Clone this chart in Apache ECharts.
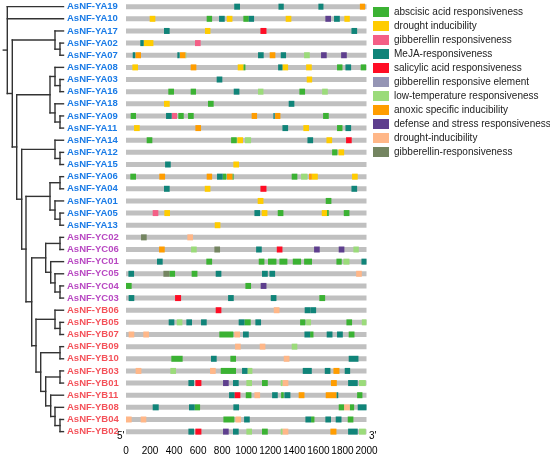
<!DOCTYPE html>
<html>
<head>
<meta charset="utf-8">
<script src="https://cdn.jsdelivr.net/npm/echarts@6/dist/echarts.min.js"></script>
<style>
  html, body { margin: 0; padding: 0; background: #fff; }
  #main { width: 550px; height: 461px; }
</style>
</head>
<body>
<div id="main"></div>
<script>
// genes, top to bottom
var genes = ['AsNF-YA19', 'AsNF-YA10', 'AsNF-YA17', 'AsNF-YA02', 'AsNF-YA07', 'AsNF-YA08',
  'AsNF-YA03', 'AsNF-YA16', 'AsNF-YA18', 'AsNF-YA09', 'AsNF-YA11', 'AsNF-YA14', 'AsNF-YA12',
  'AsNF-YA15', 'AsNF-YA06', 'AsNF-YA04', 'AsNF-YA01', 'AsNF-YA05', 'AsNF-YA13',
  'AsNF-YC02', 'AsNF-YC06', 'AsNF-YC01', 'AsNF-YC05', 'AsNF-YC04', 'AsNF-YC03',
  'AsNF-YB06', 'AsNF-YB05', 'AsNF-YB07', 'AsNF-YB09', 'AsNF-YB10', 'AsNF-YB03', 'AsNF-YB01',
  'AsNF-YB11', 'AsNF-YB08', 'AsNF-YB04', 'AsNF-YB02'];

var elementTypes = ['abscisic acid responsiveness', 'drought inducibility', 'gibberellin responsiveness',
  'MeJA-responsiveness', 'salicylic acid responsiveness', 'gibberellin responsive element',
  'low-temperature responsiveness', 'anoxic specific inducibility', 'defense and stress responsiveness',
  'drought-inducibility', 'gibberellin-responsiveness'];
var elementColors = ['#3bb233', '#ffcc00', '#f45f86', '#108479', '#ff0d25', '#9595b5',
  '#9bdb7a', '#ff9d00', '#5e3f8e', '#ffb788', '#748561'];

var ABA = 0, DRO = 1, GA = 2, MJ = 3, SA = 4, GRE = 5, LTR = 6, ANX = 7, DEF = 8, DRI = 9, GAR = 10;

// cis-elements per gene: [start, end, type]  (same order as genes)
var sites = [
  [[900, 948, MJ], [1268, 1312, MJ], [1600, 1642, MJ], [1945, 1988, ANX]],
  [[197, 244, DRO], [671, 716, ABA], [774, 821, MJ], [838, 885, DRO], [976, 1021, ABA], [1021, 1065, MJ], [1328, 1375, DRO], [1658, 1705, DEF], [1730, 1778, MJ], [1816, 1861, DRO]],
  [[316, 363, MJ], [657, 702, DRO], [1118, 1168, SA], [1875, 1922, MJ]],
  [[119, 147, MJ], [147, 228, DRO], [574, 621, GA]],
  [[56, 78, MJ], [80, 125, ANX], [427, 446, MJ], [449, 494, ANX], [494, 502, LTR], [1098, 1145, MJ], [1195, 1242, ANX], [1287, 1331, MJ], [1481, 1528, LTR], [1622, 1669, DEF], [1789, 1836, DEF]],
  [[53, 100, DRO], [538, 585, ANX], [929, 976, DRO], [976, 993, ABA], [1265, 1301, MJ], [1301, 1348, DRO], [1498, 1545, DRO], [1755, 1800, ABA], [1825, 1872, MJ], [1952, 1997, ABA]],
  [[754, 801, MJ], [1503, 1548, DRO]],
  [[352, 399, ABA], [538, 582, ABA], [896, 943, MJ], [1098, 1143, LTR], [1442, 1489, ABA], [1631, 1678, LTR]],
  [[316, 363, DRO], [682, 729, ABA], [1353, 1400, MJ]],
  [[39, 83, ABA], [333, 380, MJ], [380, 424, GA], [435, 480, ABA], [516, 563, ABA], [1045, 1090, ANX], [1226, 1237, MJ], [1240, 1284, ANX], [1639, 1686, ABA]],
  [[67, 114, DRO], [577, 624, ANX], [1301, 1348, MJ], [1475, 1522, DRO], [1755, 1800, ABA], [1825, 1872, MJ]],
  [[172, 219, ABA], [874, 921, ABA], [926, 973, DRO], [990, 1040, LTR], [1509, 1556, MJ], [1667, 1714, DRO], [1830, 1877, SA]],
  [[1714, 1758, ABA], [1767, 1814, DRO]],
  [[325, 372, MJ], [893, 940, DRO]],
  [[36, 83, ABA], [277, 325, ANX], [671, 716, ANX], [757, 804, MJ], [804, 835, ABA], [840, 885, ANX], [885, 895, ABA], [1378, 1425, ABA], [1456, 1509, LTR], [1522, 1545, ANX], [1545, 1595, DRO], [1880, 1927, DRO]],
  [[316, 363, MJ], [655, 702, DRO], [1118, 1168, SA], [1875, 1922, MJ]],
  [[1095, 1143, DRO], [1661, 1708, ABA]],
  [[222, 269, GA], [319, 366, DRO], [1068, 1115, MJ], [1129, 1176, DRO], [1262, 1309, ABA], [1628, 1672, DRO], [1672, 1686, ABA], [1811, 1858, ABA]],
  [[738, 785, DRO]],
  [[125, 172, GAR], [510, 557, DRI]],
  [[275, 322, ANX], [541, 588, LTR], [735, 782, GAR], [1082, 1129, MJ], [1254, 1301, SA], [1564, 1611, DEF], [1769, 1816, DEF], [1891, 1936, LTR]],
  [[258, 305, MJ], [668, 716, ABA], [1104, 1151, ABA], [1181, 1251, ABA], [1276, 1342, ABA], [1387, 1456, ABA], [1481, 1547, ABA], [1750, 1794, ABA], [1808, 1858, LTR], [1958, 2000, MJ]],
  [[20, 67, MJ], [311, 361, GAR], [361, 408, ABA], [546, 594, ABA], [746, 793, MJ], [1131, 1179, MJ], [1193, 1240, MJ], [1914, 1961, DRI]],
  [[0, 47, ABA], [993, 1040, ABA], [1120, 1168, DEF]],
  [[22, 69, MJ], [408, 458, SA], [849, 896, MJ], [1204, 1251, MJ], [1608, 1656, ABA]],
  [[746, 793, SA], [1229, 1276, DRI], [1486, 1534, MJ], [1534, 1581, MJ]],
  [[355, 402, MJ], [422, 469, LTR], [502, 549, MJ], [624, 671, MJ], [937, 985, MJ], [985, 1037, ABA], [1076, 1123, MJ], [1448, 1492, ABA], [1498, 1539, LTR], [1833, 1880, ABA], [1961, 2000, LTR]],
  [[22, 69, DRI], [144, 191, DRI], [776, 893, ABA], [901, 948, DRI], [973, 1021, MJ], [1484, 1531, MJ], [1531, 1559, ABA], [1669, 1717, MJ], [1755, 1803, MJ], [1852, 1900, ABA]],
  [[907, 954, DRI], [1112, 1159, DRI], [1378, 1425, LTR]],
  [[377, 471, ABA], [707, 754, MJ], [868, 915, ABA], [1312, 1359, DRI], [1852, 1933, MJ]],
  [[80, 128, DRI], [369, 416, LTR], [699, 746, DRI], [788, 915, ABA], [965, 1012, MJ], [1012, 1051, LTR], [1470, 1545, MJ], [1653, 1700, MJ], [1725, 1775, ANX], [1819, 1864, MJ]],
  [[519, 566, MJ], [577, 627, SA], [807, 854, DEF], [890, 937, MJ], [1001, 1048, LTR], [1131, 1179, ABA], [1287, 1303, LTR], [1303, 1350, DRI], [1705, 1753, ANX], [1847, 1927, MJ], [1938, 1994, LTR]],
  [[857, 904, MJ], [904, 951, SA], [996, 1043, ABA], [1068, 1115, DRI], [1215, 1262, MJ], [1290, 1312, ABA], [1317, 1367, MJ], [1436, 1484, ANX], [1661, 1750, ANX], [1750, 1765, MJ], [1922, 1966, ABA]],
  [[222, 272, MJ], [524, 571, MJ], [571, 616, ABA], [893, 940, MJ], [1769, 1814, ABA], [1814, 1861, DRI], [1861, 1897, ABA], [1927, 2000, MJ]],
  [[0, 47, DRI], [122, 169, DRI], [810, 901, ABA], [910, 957, DRI], [982, 1029, MJ], [1492, 1539, MJ], [1539, 1567, ABA], [1658, 1705, MJ], [1744, 1792, MJ], [1844, 1891, ABA]],
  [[519, 566, MJ], [577, 627, SA], [807, 854, DEF], [890, 937, MJ], [1001, 1048, LTR], [1131, 1179, ABA], [1287, 1303, LTR], [1303, 1350, DRI], [1700, 1750, ANX], [1847, 1927, MJ], [1938, 1994, LTR]]
];

var xTicks = [0, 200, 400, 600, 800, 1000, 1200, 1400, 1600, 1800, 2000];

// phylogeny: [node depth, children...], leaves are gene names
var tree = [7.3, 'AsNF-YA19', 'AsNF-YA10',
  [12.3,
    [55, 'AsNF-YA17', [60, 'AsNF-YA02', 'AsNF-YA07']],
    [16.7,
      [50, [55, 'AsNF-YA08', [60, 'AsNF-YA03', 'AsNF-YA16']], [55, 'AsNF-YA18', [60, 'AsNF-YA09', 'AsNF-YA11']]],
      [21.7,
        [55, 'AsNF-YA14', [60, 'AsNF-YA12', 'AsNF-YA15']],
        [26,
          [50, [60, 'AsNF-YA06', 'AsNF-YA04'], [55, 'AsNF-YA01', [60, 'AsNF-YA05', 'AsNF-YA13']]],
          [31.7,
            [45.7, [60, 'AsNF-YC02', 'AsNF-YC06'], [50.7, 'AsNF-YC01', [55, 'AsNF-YC05', [60, 'AsNF-YC04', 'AsNF-YC03']]]],
            [36,
              [55, 'AsNF-YB06', [60, 'AsNF-YB05', 'AsNF-YB07']],
              [40.7,
                [60, 'AsNF-YB09', 'AsNF-YB10'],
                [45.7, [60, 'AsNF-YB03', 'AsNF-YB01'], [50.7, 'AsNF-YB11', [55, 'AsNF-YB08', [60, 'AsNF-YB04', 'AsNF-YB02']]]]
              ]
            ]
          ]
        ]
      ]
    ]
  ]
];
var leafEnd = 63.5;

// turn the tree into line segments [x1, y1, x2, y2]
var treeLines = [];
function walk(node) {
  if (typeof node === 'string') return { x: leafEnd, y: genes.indexOf(node) };
  var x = node[0], ys = [];
  for (var i = 1; i < node.length; i++) {
    var c = walk(node[i]);
    treeLines.push([x, c.y, c.x, c.y]);
    ys.push(c.y);
  }
  treeLines.push([x, ys[0], x, ys[ys.length - 1]]);
  return { x: x, y: (ys[0] + ys[ys.length - 1]) / 2 };
}
var root = walk(tree);
treeLines.push([3.3, root.y, tree[0], root.y]);

function labelColor(name) {
  if (name.indexOf('YA') > 0) return '#1a7be6';
  if (name.indexOf('YC') > 0) return '#b848c2';
  return '#f4525a';
}

var myChart = echarts.init(document.getElementById('main'));

var gridTop = 0.6, gridBottom = 23.3;

var series = [
  {
    type: 'custom',
    xAxisIndex: 1,
    yAxisIndex: 1,
    silent: true,
    data: treeLines,
    renderItem: function (params, api) {
      var a = api.coord([api.value(0), api.value(1)]);
      var b = api.coord([api.value(2), api.value(3)]);
      return {
        type: 'line',
        shape: { x1: a[0], y1: a[1], x2: b[0], y2: b[1] },
        style: { stroke: '#333', lineWidth: 1.4, lineCap: 'square' }
      };
    }
  },
  {
    type: 'bar',
    silent: true,
    z: 1,
    barWidth: 5,
    itemStyle: { color: '#c0c0c0' },
    data: genes.map(function () { return 2000; })
  }
];

elementTypes.forEach(function (name, t) {
  var data = [];
  sites.forEach(function (row, r) {
    row.forEach(function (s) {
      if (s[2] === t) data.push([s[0], s[1], r]);
    });
  });
  series.push({
    name: name,
    type: 'custom',
    silent: true,
    z: 5,
    itemStyle: { color: elementColors[t], opacity: 1 },
    data: data,
    renderItem: function (params, api) {
      var a = api.coord([api.value(0), api.value(2)]);
      var b = api.coord([api.value(1), api.value(2)]);
      return {
        type: 'rect',
        shape: { x: a[0], y: a[1] - 3, width: b[0] - a[0], height: 6 },
        style: { fill: elementColors[t], opacity: 1 }
      };
    }
  });
});

var option = {
  animation: false,
  legend: {
    data: elementTypes,
    orient: 'vertical',
    left: 373,
    top: 7,
    padding: 0,
    icon: 'rect',
    itemWidth: 16,
    itemHeight: 10,
    itemGap: 4,
    selectedMode: false,
    textStyle: { fontFamily: 'Arial', fontSize: 10, color: '#222' }
  },
  grid: [
    { left: 126, right: 183.5, top: gridTop, bottom: gridBottom },
    { left: 0, width: 64, top: gridTop, bottom: gridBottom }
  ],
  xAxis: [
    {
      type: 'value',
      min: 0,
      max: 2000,
      interval: 200,
      offset: 5,
      splitLine: { show: false },
      axisLine: { lineStyle: { color: '#000', width: 1.3 } },
      axisTick: { inside: true, length: 3, lineStyle: { color: '#000' } },
      axisLabel: {
        fontFamily: 'Arial', fontSize: 10, color: '#000', margin: 4,
        formatter: function (v) { return xTicks.indexOf(v) >= 0 ? String(v) : ''; }
      }
    },
    { gridIndex: 1, type: 'value', min: 0, max: 64, show: false }
  ],
  yAxis: [
    {
      type: 'category',
      data: genes,
      inverse: true,
      axisLine: { show: false },
      axisTick: { show: false },
      axisLabel: {
        interval: 0,
        align: 'left',
        margin: 59,
        fontFamily: 'Arial',
        fontWeight: 'bold',
        fontSize: 9.5,
        color: function (v) { return labelColor(v); }
      }
    },
    { gridIndex: 1, type: 'value', min: -0.5, max: genes.length - 0.5, inverse: true, show: false }
  ],
  graphic: [
    { type: 'text', left: 117, top: 431, style: { text: "5'", font: '10px Arial', fill: '#000' } },
    { type: 'text', left: 369, top: 431, style: { text: "3'", font: '10px Arial', fill: '#000' } }
  ],
  series: series
};

myChart.setOption(option);
</script>
</body>
</html>
